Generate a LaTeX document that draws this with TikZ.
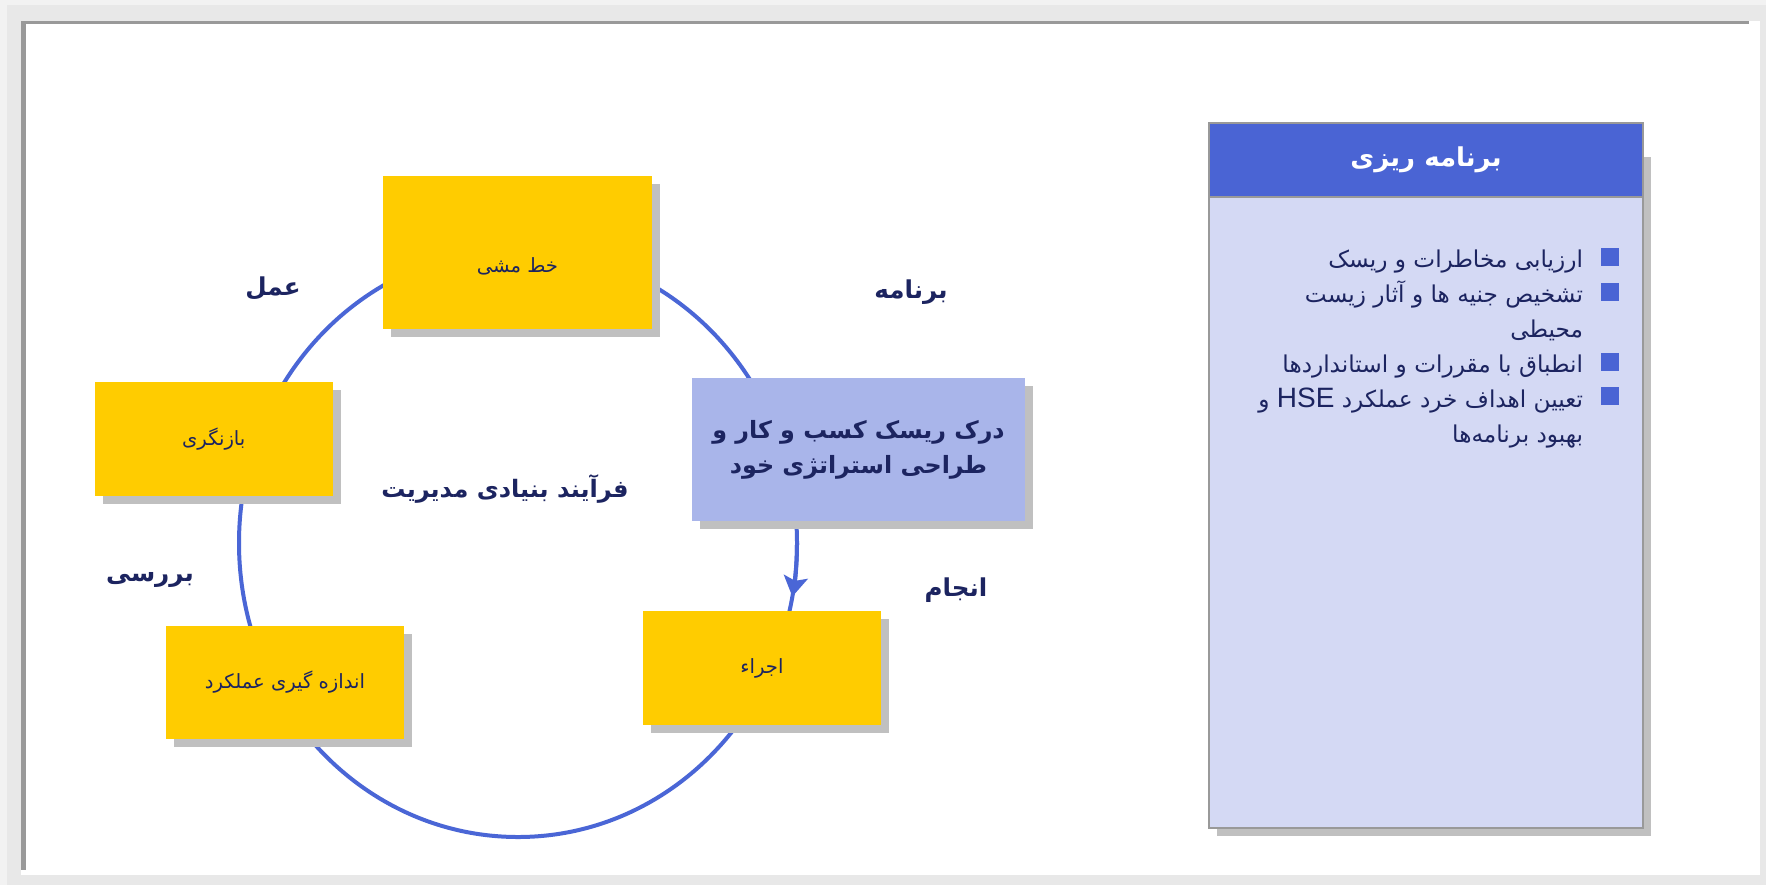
\documentclass[tikz,border=0pt]{standalone}
\usepackage{fontspec}
\setmainfont{DejaVu Sans}
\newfontfamily\fa[Script=Arabic]{DejaVu Sans}
\newfontfamily\latinf{Liberation Sans}
\TeXXeTstate=1
\usetikzlibrary{arrows.meta,shadows}
\definecolor{yel}{HTML}{FFCC00}
\definecolor{shgray}{HTML}{C0C0C0}
\definecolor{navy}{HTML}{1C2460}
\definecolor{ringblue}{HTML}{4A66D6}
\definecolor{lightblue}{HTML}{A9B5EA}
\definecolor{headblue}{HTML}{4A64D4}
\definecolor{panelbg}{HTML}{D4D9F4}
\definecolor{framegray}{HTML}{999999}
\definecolor{outergray}{HTML}{E8E8E8}
\definecolor{outerlight}{HTML}{F2F2F2}
\begin{document}
\begin{tikzpicture}[x=0.5pt,y=-0.5pt,
  every node/.style={inner sep=0pt, outer sep=0pt},
  shadowed/.style={drop shadow={shadow xshift=4pt, shadow yshift=-4pt, opacity=1, fill=shgray}},
  ybox/.style={shadowed, fill=yel},
  boxtext/.style={text=navy, font=\fa\fontsize{9.8}{12}\selectfont},
  bbox/.style={shadowed, fill=lightblue, text=navy, align=center, font=\fa\bfseries\fontsize{11.9}{17.5}\selectfont},
  stage/.style={text=navy, font=\fa\bfseries\fontsize{12.3}{15}\selectfont},
  ring/.style={draw=ringblue, line width=2pt},
  bullet/.style={fill=headblue, minimum size=9pt},
  btext/.style={text=navy, anchor=base east, font=\fa\fontsize{11.6}{14}\selectfont}]
\useasboundingbox (0,0) rectangle (1766,885);
% frame
\fill[outergray] (0,0) rectangle (1766,885);
\fill[outerlight] (0,0) rectangle (1766,5);
\fill[outerlight] (0,0) rectangle (7,885);
\fill[white] (21,21) rectangle (1760,875);
\fill[framegray] (21,21) rectangle (1749,24);
\fill[framegray] (21,21) rectangle (26,870);
% cycle
\draw[ring] (518,543) ellipse [x radius=139.5pt, y radius=147pt];
\coordinate (arrstart) at (797,543);
\draw[ring, -{Stealth[length=10pt, width=12pt, inset=2pt]}] (arrstart) arc[start angle=0, end angle=-10.5, x radius=139.5pt, y radius=147pt];
% boxes
\node[ybox, minimum width=134.5pt, minimum height=76.5pt] (policy) at (517.5,252.5) {};
\node[boxtext] (policyt) at (517.5,266) {\beginR خط مشی\endR};
\node[ybox, minimum width=119.25pt, minimum height=57pt] (review) at (213.75,439) {};
\node[boxtext] (reviewt) at (review.center) {\beginR بازنگری\endR};
\node[ybox, minimum width=119pt, minimum height=56.5pt] (measure) at (285,682.5) {};
\node[boxtext] (measuret) at (measure.center) {\beginR اندازه گیری عملکرد\endR};
\node[ybox, minimum width=119pt, minimum height=57pt] (exec) at (762,668) {};
\node[boxtext] (exect) at (exec.center) {\beginR اجراء\endR};
\node[bbox, minimum width=166.5pt, minimum height=71.5pt] (risk) at (858.5,449.5) {\beginR درک ریسک کسب و کار و\endR\\\beginR طراحی استراتژی خود\endR};
% stage labels
\node[stage] (lact) at (273,288) {\beginR عمل\endR};
\node[stage] (lplan) at (911,292) {\beginR برنامه\endR};
\node[stage] (ldo) at (956,590) {\beginR انجام\endR};
\node[stage] (lcheck) at (150,580) {\beginR بررسی\endR};
\node[stage, font=\fa\bfseries\fontsize{12}{15}\selectfont] (lcore) at (505,489) {\beginR فرآیند بنیادی مدیریت\endR};
% right panel
\fill[shgray] (1217,157) rectangle (1651,836);
\node[fill=panelbg, draw=framegray, line width=0.75pt, minimum width=217pt, minimum height=315.5pt, anchor=north west] (body) at (1209,197) {};
\node[fill=headblue, draw=framegray, line width=0.75pt, minimum width=217pt, minimum height=37pt, anchor=north west, text=white, font=\fa\bfseries\fontsize{13}{16}\selectfont] (head) at (1209,123) {\beginR برنامه ریزی\endR};
\node[bullet] (b1) at (1610,257) {};
\node[bullet] (b2) at (1610,292) {};
\node[bullet] (b3) at (1610,362) {};
\node[bullet] (b4) at (1610,396) {};
\node[btext] (t1) at (1583,267) {\beginR ارزیابی مخاطرات و ریسک\endR};
\node[btext] (t2) at (1583,302) {\beginR تشخیص جنیه ها و آثار زیست\endR};
\node[btext] (t3) at (1583,337) {\beginR محیطی\endR};
\node[btext] (t4) at (1583,372) {\beginR انطباق با مقررات و استانداردها\endR};
\node[btext] (t5) at (1583,407) {\beginR تعیین اهداف خرد عملکرد \beginL{\latinf\fontsize{14}{16}\selectfont HSE}\endL{} و\endR};
\node[btext] (t6) at (1583,442) {\beginR بهبود برنامه‌ها\endR};
\end{tikzpicture}
\end{document}
